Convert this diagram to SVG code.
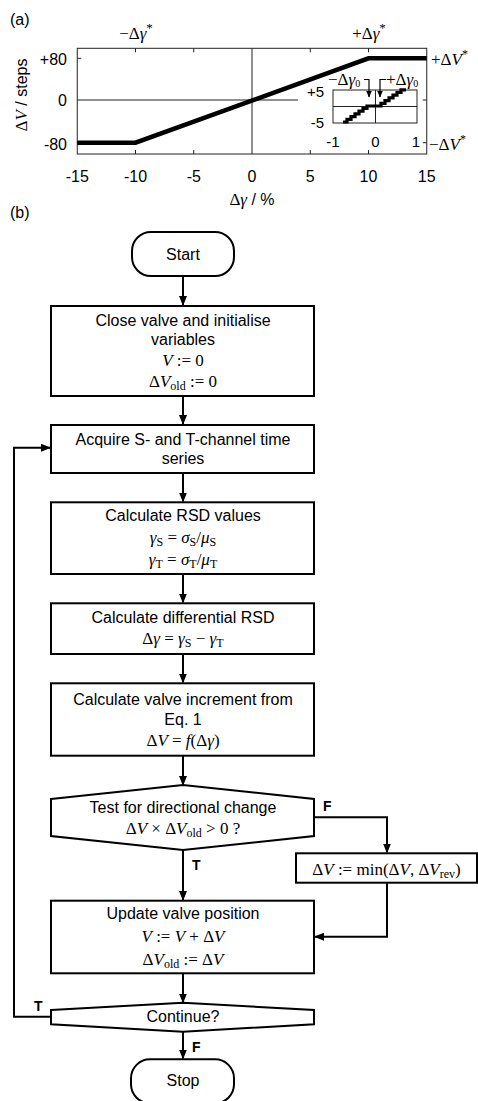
<svg xmlns="http://www.w3.org/2000/svg" width="478" height="1101" viewBox="0 0 478 1101">
<defs>
<marker id="ah" markerWidth="10" markerHeight="8" refX="9" refY="4" orient="auto" markerUnits="userSpaceOnUse">
<path d="M0,0 L10,4 L0,8 z" fill="#000"/>
</marker>
<marker id="ahs" markerWidth="7" markerHeight="6" refX="6.5" refY="3" orient="auto" markerUnits="userSpaceOnUse">
<path d="M0,0 L7,3 L0,6 z" fill="#000"/>
</marker>
<style>
.sans{font-family:"Liberation Sans",Arial,sans-serif;font-size:16px;fill:#000}
.math{font-family:"Liberation Serif","Times New Roman",serif;font-size:17px;fill:#000}
.it{font-style:italic}
.lbl{font-family:"Liberation Sans",Arial,sans-serif;font-size:14px;font-weight:bold;fill:#000}
.box{fill:#fff;stroke:#000;stroke-width:2}
.conn{fill:none;stroke:#000;stroke-width:2}
.ax{fill:none;stroke:#222;stroke-width:1}
.tick{fill:none;stroke:#222;stroke-width:1}
</style>
</defs>

<!-- (a) plot -->
<g id="plot">
<text class="sans" x="10" y="25">(a)</text>
<rect class="ax" x="77.25" y="48.3" width="349.5" height="105.7"/>
<line class="ax" x1="77.25" y1="100" x2="298" y2="100"/>
<line class="ax" x1="252" y1="48.3" x2="252" y2="154"/>
<g class="tick">
<path d="M135.5,154v-4M193.75,154v-4M310.25,154v-4M368.5,154v-4M135.5,48.3v4M193.75,48.3v4M310.25,48.3v4M368.5,48.3v4M77.25,58.3h4M77.25,142.7h4M426.75,58.3h-4M426.75,100h-4M426.75,142.7h-4"/>
</g>
<polyline points="77.25,142.7 135.5,142.7 368.5,58.3 426.75,58.3" fill="none" stroke="#000" stroke-width="4.5"/>
<g class="sans" text-anchor="middle">
<text x="77.25" y="181.5">-15</text>
<text x="135.5" y="181.5">-10</text>
<text x="193.75" y="181.5">-5</text>
<text x="252" y="181.5">0</text>
<text x="310.25" y="181.5">5</text>
<text x="368.5" y="181.5">10</text>
<text x="426.75" y="181.5">15</text>
</g>
<g class="sans" text-anchor="end">
<text x="67" y="65">+80</text>
<text x="67" y="106">0</text>
<text x="67" y="150">-80</text>
</g>
<text text-anchor="middle" x="252" y="205"><tspan class="math" font-size="20">Δ</tspan><tspan class="math it" font-size="20">γ</tspan><tspan class="sans" font-size="18"> / %</tspan></text>
<text transform="translate(27,95) rotate(-90)" text-anchor="middle"><tspan class="math" font-size="19">Δ</tspan><tspan class="math it" font-size="19">V</tspan><tspan class="sans" font-size="18"> / steps</tspan></text>
<text class="math" font-size="19" x="136" y="39" text-anchor="middle">−Δ<tspan class="it">γ</tspan><tspan font-size="13" dy="-7">*</tspan></text>
<text class="math" font-size="19" x="369" y="39" text-anchor="middle">+Δ<tspan class="it">γ</tspan><tspan font-size="13" dy="-7">*</tspan></text>
<text class="math" font-size="18" x="431" y="65">+Δ<tspan class="it">V</tspan><tspan font-size="12" dy="-7">*</tspan></text>
<text class="math" font-size="18" x="429" y="150">−Δ<tspan class="it">V</tspan><tspan font-size="12" dy="-7">*</tspan></text>
<!-- inset -->
<rect class="ax" x="333" y="90" width="84" height="33" fill="#fff"/>
<line class="ax" x1="333" y1="106.5" x2="417" y2="106.5"/>
<line class="ax" x1="375.5" y1="90" x2="375.5" y2="123"/>
<polyline points="343,122 347,122 347,119.3 351,119.3 351,116.6 355,116.6 355,113.9 359,113.9 359,111.2 363,111.2 363,108.5 367,108.5 367,106 381,106 381,103.3 385,103.3 385,100.6 389,100.6 389,97.9 393,97.9 393,95.2 397,95.2 397,92.5 401,92.5 401,89.8 406,89.8" fill="none" stroke="#000" stroke-width="3.2"/>
<g font-family="Liberation Sans, Arial, sans-serif" font-size="15" fill="#000">
<text x="324" y="97" text-anchor="end">+5</text>
<text x="324" y="128" text-anchor="end">-5</text>
<text x="333" y="147" text-anchor="middle">-1</text>
<text x="375.5" y="147" text-anchor="middle">0</text>
<text x="416" y="147" text-anchor="middle">1</text>
</g>
<text class="math" font-size="15" x="328" y="85">−Δ<tspan class="it">γ</tspan><tspan font-size="10" dy="2">0</tspan></text>
<text class="math" font-size="15" x="386" y="85">+Δ<tspan class="it">γ</tspan><tspan font-size="10" dy="2">0</tspan></text>
<path d="M364,79.5H369V97" fill="none" stroke="#000" stroke-width="1.2" marker-end="url(#ahs)"/>
<path d="M386,79.5H380V97" fill="none" stroke="#000" stroke-width="1.2" marker-end="url(#ahs)"/>
</g>

<text class="sans" x="10" y="218">(b)</text>

<!-- connectors -->
<g id="connectors">
<path class="conn" d="M183,276V305" marker-end="url(#ah)"/>
<path class="conn" d="M183,396V424" marker-end="url(#ah)"/>
<path class="conn" d="M183,473V501.5" marker-end="url(#ah)"/>
<path class="conn" d="M183,574V602.5" marker-end="url(#ah)"/>
<path class="conn" d="M183,654V682.5" marker-end="url(#ah)"/>
<path class="conn" d="M183,756V785" marker-end="url(#ah)"/>
<path class="conn" d="M314,817.3H387V852.5" marker-end="url(#ah)"/>
<path class="conn" d="M183,850V900" marker-end="url(#ah)"/>
<path class="conn" d="M387,883V936.7H315" marker-end="url(#ah)"/>
<path class="conn" d="M183,973.3V1002.5" marker-end="url(#ah)"/>
<path class="conn" d="M51,1016.7H14V447.7H50" marker-end="url(#ah)"/>
<path class="conn" d="M183,1031.7V1058.5" marker-end="url(#ah)"/>
<text class="lbl" x="323" y="811">F</text>
<text class="lbl" x="192" y="870">T</text>
<text class="lbl" x="34" y="1011">T</text>
<text class="lbl" x="192" y="1052">F</text>
</g>

<g id="start">
<rect class="box" x="132" y="232" width="102" height="44" rx="19"/>
<text class="sans" x="183" y="260" text-anchor="middle">Start</text>
</g>

<g id="init">
<rect class="box" x="51" y="306" width="263" height="90"/>
<text class="sans" x="183" y="326" text-anchor="middle">Close valve and initialise</text>
<text class="sans" x="183" y="345" text-anchor="middle">variables</text>
<text class="math" x="183" y="366" text-anchor="middle"><tspan class="it">V</tspan> := 0</text>
<text class="math" x="183" y="387" text-anchor="middle">Δ<tspan class="it">V</tspan><tspan font-size="12" dy="3">old</tspan><tspan dy="-3"> := 0</tspan></text>
</g>

<g id="acquire">
<rect class="box" x="51" y="425" width="263" height="48"/>
<text class="sans" x="183" y="445" text-anchor="middle">Acquire S- and T-channel time</text>
<text class="sans" x="183" y="464" text-anchor="middle">series</text>
</g>

<g id="rsd">
<rect class="box" x="51" y="502.3" width="263" height="71.7"/>
<text class="sans" x="183" y="521" text-anchor="middle">Calculate RSD values</text>
<text class="math" x="183" y="543" text-anchor="middle"><tspan class="it">γ</tspan><tspan font-size="12" dy="3">S</tspan><tspan dy="-3"> = </tspan><tspan class="it">σ</tspan><tspan font-size="12" dy="3">S</tspan><tspan dy="-3">/</tspan><tspan class="it">μ</tspan><tspan font-size="12" dy="3">S</tspan></text>
<text class="math" x="183" y="565" text-anchor="middle"><tspan class="it">γ</tspan><tspan font-size="12" dy="3">T</tspan><tspan dy="-3"> = </tspan><tspan class="it">σ</tspan><tspan font-size="12" dy="3">T</tspan><tspan dy="-3">/</tspan><tspan class="it">μ</tspan><tspan font-size="12" dy="3">T</tspan></text>
</g>

<g id="diff">
<rect class="box" x="51" y="603.3" width="263" height="50.7"/>
<text class="sans" x="183" y="623" text-anchor="middle">Calculate differential RSD</text>
<text class="math" x="183" y="644" text-anchor="middle">Δ<tspan class="it">γ</tspan> = <tspan class="it">γ</tspan><tspan font-size="12" dy="3">S</tspan><tspan dy="-3"> − </tspan><tspan class="it">γ</tspan><tspan font-size="12" dy="3">T</tspan></text>
</g>

<g id="increment">
<rect class="box" x="51" y="683.3" width="263" height="72.4"/>
<text class="sans" x="183" y="705" text-anchor="middle">Calculate valve increment from</text>
<text class="sans" x="183" y="725" text-anchor="middle">Eq. 1</text>
<text class="math" x="183" y="746" text-anchor="middle">Δ<tspan class="it">V</tspan> = <tspan class="it">f</tspan>(Δ<tspan class="it">γ</tspan>)</text>
</g>

<g id="test">
<polygon class="box" points="51,799 183,785 314,799 314,836 183,850 51,836"/>
<text class="sans" x="183" y="813" text-anchor="middle">Test for directional change</text>
<text class="math" x="183" y="834" text-anchor="middle">Δ<tspan class="it">V</tspan> × Δ<tspan class="it">V</tspan><tspan font-size="12" dy="3">old</tspan><tspan dy="-3"> &gt; 0 ?</tspan></text>
</g>

<g id="limit">
<rect class="box" x="296" y="853.3" width="181" height="29.4"/>
<text class="math" x="386.5" y="875" text-anchor="middle">Δ<tspan class="it">V</tspan> := min(Δ<tspan class="it">V</tspan>, Δ<tspan class="it">V</tspan><tspan font-size="12" dy="3">rev</tspan><tspan dy="-3">)</tspan></text>
</g>

<g id="update">
<rect class="box" x="51" y="900.7" width="263" height="72.6"/>
<text class="sans" x="183" y="919" text-anchor="middle">Update valve position</text>
<text class="math" x="183" y="942" text-anchor="middle"><tspan class="it">V</tspan> := <tspan class="it">V</tspan> + Δ<tspan class="it">V</tspan></text>
<text class="math" x="183" y="965" text-anchor="middle">Δ<tspan class="it">V</tspan><tspan font-size="12" dy="3">old</tspan><tspan dy="-3"> := Δ</tspan><tspan class="it">V</tspan></text>
</g>

<g id="continue">
<polygon class="box" points="51,1010 183,1002.7 314,1010 314,1024.3 183,1031.7 51,1024.3"/>
<text class="sans" x="183" y="1022" text-anchor="middle">Continue?</text>
</g>

<g id="stop">
<rect class="box" x="131" y="1059.3" width="103" height="44" rx="19"/>
<text class="sans" x="183" y="1086" text-anchor="middle">Stop</text>
</g>
</svg>
